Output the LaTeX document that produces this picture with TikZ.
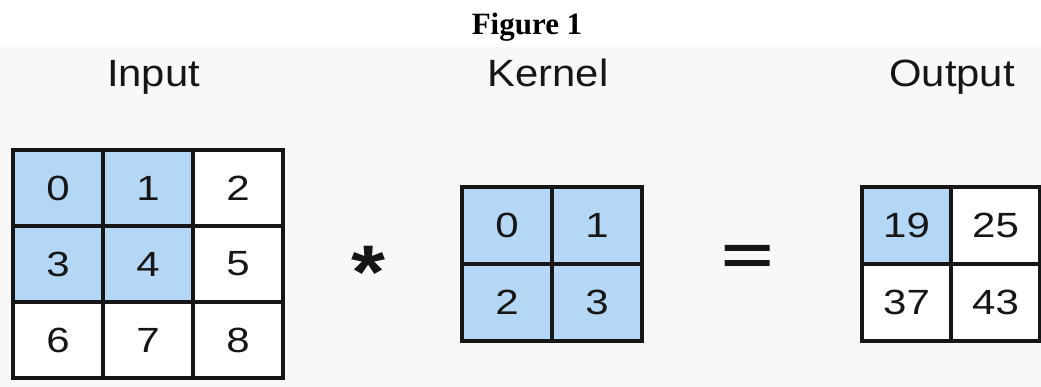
\documentclass[tikz,border=0pt]{standalone}
\usepackage{fontspec}
\setmainfont{Liberation Sans}
\newfontfamily\capfont{Liberation Serif}
\usepackage{graphicx}
\definecolor{kblue}{RGB}{180,215,246}
\definecolor{bggray}{RGB}{248,248,248}
\definecolor{ink}{RGB}{22,22,22}
\newcommand{\cellnum}[1]{\scalebox{1.2}[1]{#1}}
\newcommand{\labtxt}[1]{\scalebox{1.1}[1]{#1}}
\begin{document}
\begin{tikzpicture}[x=1pt,y=-1pt,
  cellbox/.style={draw=ink, line width=3.5pt, rectangle, inner sep=0pt,
     minimum width=90pt, minimum height=76pt, text=ink,
     font=\fontsize{35}{35}\selectfont},
  kcell/.style={cellbox, minimum height=77pt},
  ocell/.style={cellbox, minimum width=89pt, minimum height=77pt},
  hl/.style={fill=kblue},
  wh/.style={fill=white},
  headlabel/.style={anchor=base, text=ink, font=\fontsize{38}{38}\selectfont, inner sep=0pt}]
\useasboundingbox (0,0) rectangle (1041,387);
\fill[white] (0,0) rectangle (1041,387);
\fill[bggray] (0,47) rectangle (1041,387);
\node[anchor=base, inner sep=0pt, font=\capfont\bfseries\fontsize{31}{31}\selectfont] (title) at (527,35) {Figure 1};
\node[headlabel] (linput) at (153.5,87) {\labtxt{Input}};
\node[headlabel] (lkernel) at (548,87) {\labtxt{Kernel}};
\node[headlabel] (loutput) at (952,87) {\labtxt{Output}};
% input
\node[cellbox,hl] (i00) at (58,188) {\cellnum{0}};
\node[cellbox,hl] (i01) at (148,188) {\cellnum{1}};
\node[cellbox,wh] (i02) at (238,188) {\cellnum{2}};
\node[cellbox,hl] (i10) at (58,264) {\cellnum{3}};
\node[cellbox,hl] (i11) at (148,264) {\cellnum{4}};
\node[cellbox,wh] (i12) at (238,264) {\cellnum{5}};
\node[cellbox,wh] (i20) at (58,340) {\cellnum{6}};
\node[cellbox,wh] (i21) at (148,340) {\cellnum{7}};
\node[cellbox,wh] (i22) at (238,340) {\cellnum{8}};
% operator
\node[inner sep=0pt, text=ink, font=\bfseries\fontsize{76}{76}\selectfont] (star) at (369,272) {\scalebox{1.15}[1]{*}};
% kernel
\node[kcell,hl] (k00) at (507,225.5) {\cellnum{0}};
\node[kcell,hl] (k01) at (597,225.5) {\cellnum{1}};
\node[kcell,hl] (k10) at (507,302.5) {\cellnum{2}};
\node[kcell,hl] (k11) at (597,302.5) {\cellnum{3}};
% equals
\node[inner sep=0pt, text=ink, font=\bfseries\fontsize{56}{56}\selectfont] (eq) at (748,259.5) {\scalebox{1.6}[1]{=}};
% output
\node[ocell,hl] (o00) at (906.5,225.5) {\cellnum{19}};
\node[ocell,wh] (o01) at (995.5,225.5) {\cellnum{25}};
\node[ocell,wh] (o10) at (906.5,302.5) {\cellnum{37}};
\node[ocell,wh] (o11) at (995.5,302.5) {\cellnum{43}};
\end{tikzpicture}
\end{document}
